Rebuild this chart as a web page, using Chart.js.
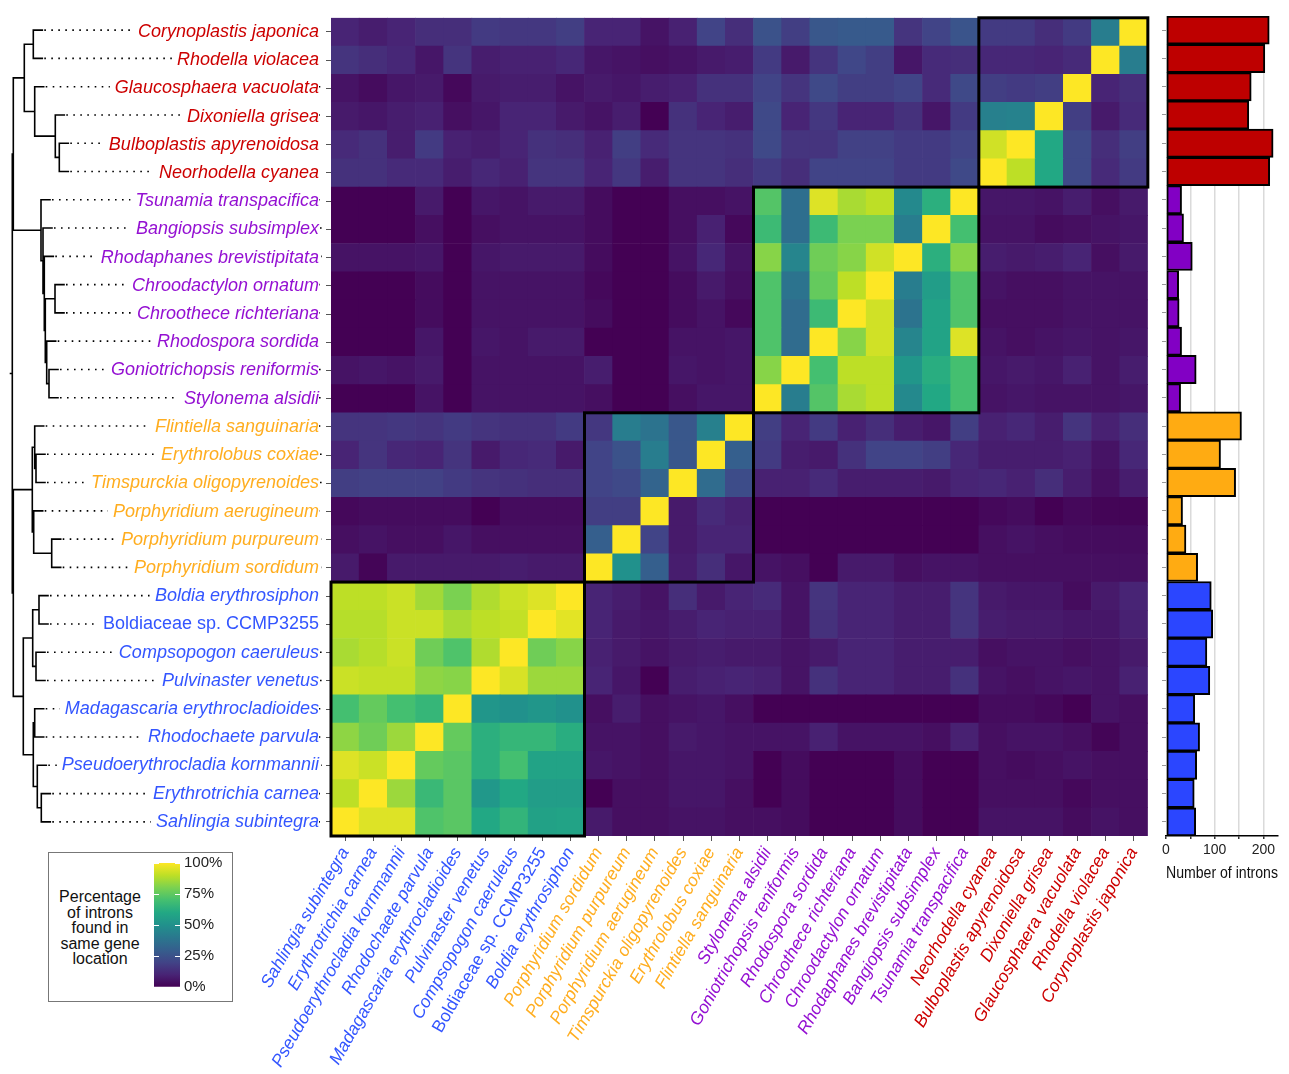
<!DOCTYPE html>
<html>
<head>
<meta charset="utf-8">
<script src="https://cdn.jsdelivr.net/npm/chart.js@4.4.1/dist/chart.umd.min.js"></script>
<style>
  body { margin: 0; background: #fff; width: 1289px; height: 1074px; overflow: hidden; position: relative;
         font-family: "Liberation Sans", Arial, sans-serif; }
  canvas { position: absolute; }
  #legendBox { position: absolute; left: 48px; top: 852px; width: 185px; height: 150px;
               border: 1px solid #777; box-sizing: border-box; }
  #legendTitle { position: absolute; left: 48px; top: 889px; width: 104px; text-align: center;
                 font-size: 16px; line-height: 15.5px; color: #111; }
</style>
</head>
<body>
<div id="legendBox"></div>
<div id="legendTitle">Percentage<br>of introns<br>found in<br>same gene<br>location</div>
<canvas id="tree" width="331" height="1074" style="left:0;top:0"></canvas>
<canvas id="heat" width="1155" height="1074" style="left:0;top:0"></canvas>
<canvas id="bars" width="134" height="885" style="left:1155px;top:0"></canvas>
<canvas id="scale" width="90" height="150" style="left:150px;top:850px"></canvas>
<script>
// species, top to bottom (heatmap columns run in reverse order)
const species = [
  "Corynoplastis japonica", "Rhodella violacea", "Glaucosphaera vacuolata", "Dixoniella grisea",
  "Bulboplastis apyrenoidosa", "Neorhodella cyanea",
  "Tsunamia transpacifica", "Bangiopsis subsimplex", "Rhodaphanes brevistipitata", "Chroodactylon ornatum",
  "Chroothece richteriana", "Rhodospora sordida", "Goniotrichopsis reniformis", "Stylonema alsidii",
  "Flintiella sanguinaria", "Erythrolobus coxiae", "Timspurckia oligopyrenoides", "Porphyridium aerugineum",
  "Porphyridium purpureum", "Porphyridium sordidum",
  "Boldia erythrosiphon", "Boldiaceae sp. CCMP3255", "Compsopogon caeruleus", "Pulvinaster venetus",
  "Madagascaria erythrocladioides", "Rhodochaete parvula", "Pseudoerythrocladia kornmannii",
  "Erythrotrichia carnea", "Sahlingia subintegra"
];
const group = [0,0,0,0,0,0, 1,1,1,1,1,1,1,1, 2,2,2,2,2,2, 3,3,3,3,3,3,3,3,3];
const introns = [212,203,175,170,220,213, 32,36,54,26,27,32,62,30, 155,112,143,34,41,65, 93,96,84,90,59,69,63,58,61];
const intronTicks = [0, 50, 100, 150, 200];

// percentage matrix: rows top->bottom, columns left->right as drawn
const pct = [
  [10,8,10,13,13,17,16,16,18,10,10,5,9,20,13, 25,18,27,28,28,15,20,26,17,17,13,17,42,100],
  [15,13,11,6,15,8,9,9,11,6,5,4,5,7,8, 17,7,15,21,18,6,12,13,11,11,10,12,100,42],
  [5,3,6,7,2,7,8,8,5,7,6,8,9,14,14, 20,15,22,18,18,20,12,22,18,17,18,100,10,13],
  [7,6,8,9,4,6,10,10,7,5,8,0,14,10,8, 22,10,16,10,10,14,6,17,43,44,100,18,7,12],
  [12,14,8,17,9,8,10,14,13,9,18,12,15,15,14, 22,15,15,19,19,17,17,20,93,100,60,22,13,18],
  [14,14,12,12,8,11,9,15,15,10,16,8,15,15,13, 17,13,20,20,20,17,17,22,100,90,60,22,12,17],
  [0,0,0,7,0,6,5,7,7,3,0,0,4,4,5, 73,36,95,87,90,47,63,100, 6,6,5,8,4,7],
  [0,0,0,4,0,4,5,5,5,3,0,0,4,9,2, 68,36,68,80,80,42,100,70, 5,5,3,4,5,6],
  [5,5,5,6,0,6,7,7,7,3,0,0,5,11,5, 82,45,78,82,93,100,63,82, 8,7,8,10,4,7],
  [0,0,0,3,0,5,5,5,5,2,0,0,3,7,4, 72,38,76,90,100,42,55,72, 5,4,4,5,5,5],
  [0,0,0,3,0,5,5,5,5,3,0,0,3,5,2, 72,35,68,100,93,38,58,72, 4,4,4,5,5,5],
  [0,0,0,6,0,6,5,7,7,0,0,0,5,5,6, 72,35,100,82,93,45,58,95, 5,4,5,6,5,6],
  [5,6,5,7,0,5,5,5,5,8,0,0,6,5,6, 82,100,70,90,90,52,62,70, 6,7,6,9,5,8],
  [0,0,0,5,0,5,5,5,5,4,0,0,4,6,6, 100,42,73,87,90,47,60,70, 5,6,5,5,5,6],
  [15,15,16,15,17,15,14,14,17, 16,42,38,27,43,100, 18,10,17,9,13,8,6,18, 9,11,8,15,9,13],
  [10,15,11,10,15,7,11,12,7, 20,25,42,27,100,30, 17,8,7,14,20,20,18,11, 8,8,8,9,5,11],
  [18,19,19,19,17,15,14,13,13, 20,22,32,100,35,23, 9,9,12,8,8,8,7,10, 11,9,13,8,4,8],
  [2,3,3,3,3,0,3,3,3, 18,18,100,7,12,9, 0,0,0,0,0,0,0,0, 2,3,0,2,1,1],
  [4,5,4,4,6,4,4,4,4, 30,100,20,7,10,10, 0,0,0,0,0,0,0,0, 4,5,4,3,3,3],
  [7,1,7,7,7,7,8,7,7, 100,50,30,8,13,6, 5,4,0,7,7,4,5,5, 4,4,4,4,4,4],
  [90,90,92,86,80,88,92,95,100, 10,8,5,13,7,10, 12,5,15,10,10,8,8,15, 7,6,6,3,7,10],
  [89,89,92,92,87,90,91,100,96, 10,7,6,8,10,9, 9,5,14,10,10,8,8,15, 8,7,7,6,6,9],
  [87,89,92,78,72,88,100,78,82, 9,7,5,7,8,7, 7,5,7,10,10,8,8,8, 4,5,5,4,5,7],
  [92,91,91,83,82,100,94,85,85, 10,6,0,8,9,10, 9,5,14,10,10,8,8,14, 5,4,5,6,5,9],
  [70,76,70,66,100,52,50,52,50, 4,8,4,5,6,4, 0,0,0,0,0,0,0,0, 3,3,2,0,5,4],
  [83,78,85,100,76,63,66,66,62, 5,5,4,7,6,5, 5,5,9,5,5,5,4,9, 4,5,5,4,1,4],
  [95,92,100,76,74,63,70,58,58, 6,5,4,6,6,5, 0,3,0,0,0,3,0,0, 4,3,4,5,4,4],
  [90,100,85,67,74,53,60,55,55, 0,4,4,6,6,4, 0,3,0,0,0,3,0,0, 4,4,4,2,4,4],
  [100,95,95,72,74,60,65,57,58, 7,4,4,5,5,4, 4,3,0,0,0,3,0,0, 5,5,5,3,5,4]
];

// dendrogram: [node height, ...children], leaves are row indices
const redClade = [24.3, [33.3, 0, 1], [34.7, 2, [55.3, 3, [59.3, 4, 5]]]];
const purpleClade = [41, 6, [43, 7, [44.3, 8, [45.3, [55, 9, 10], [46.7, 11, [49, 12, 13]]]]]];
const orangeClade = [32.3, [34.7, 14, [36, 15, 16]], [33.7, 17, [51.7, 18, 19]]];
const blueClade = [23.3, [32.7, [39, 20, 21], [36, 22, 23]], [33.3, [34.7, 24, 25], [37.3, 26, [41.3, 27, 28]]]];
const tree = [12.3, [13.3, redClade, purpleClade], [13.3, orangeClade, blueClade]];

const textColors = ["#cc0000", "#9410d2", "#ffad1f", "#3355ff"];
const barColors = ["#be0000", "#8200c4", "#ffab12", "#2b46ff"];
const blocks = [[0, 6], [6, 8], [14, 6], [20, 9]];   // [first row, size]
const legendTicks = [0, 25, 50, 75, 100];

const viridisStops = ["#440154","#482475","#414487","#355f8d","#2a788e","#21918c",
                      "#22a884","#44bf70","#7ad151","#bddf26","#fde725"];
function hexRgb(h) { return [1, 3, 5].map(i => parseInt(h.slice(i, i + 2), 16)); }
function viridis(t) {
  t = Math.max(0, Math.min(1, t));
  const p = t * 10, i = Math.min(9, Math.floor(p)), f = p - i;
  const a = hexRgb(viridisStops[i]), b = hexRgb(viridisStops[i + 1]);
  return "rgb(" + a.map((v, k) => Math.round(v + (b[k] - v) * f)).join(",") + ")";
}
const n = species.length;
const colNames = species.slice().reverse();
// row index of the k-th tick / column (both counted from the bottom-left)
const rowOf = k => n - 1 - (Number.isInteger(k) ? k : 0);
const fontFor = (r, size) => ({ family: "'Liberation Sans', Arial, sans-serif", size,
                        style: species[r].startsWith("Boldiaceae") ? "normal" : "italic" });
const noUi = { legend: { display: false }, tooltip: { enabled: false } };

// ---- dendrogram ----
const solid = [], dotted = [], gap = { x: NaN, y: NaN };
function walk(node, parentX) {
  if (typeof node === "number") {
    const y = n - 0.5 - node, tip = parentX + 9;
    solid.push({ x: parentX, y }, { x: tip, y }, gap);
    dotted.push({ x: tip + 2, y }, { x: 322, y }, gap);
    return y;
  }
  const [h, ...kids] = node;
  const ys = kids.map(k => walk(k, h));
  const lo = Math.min(...ys), hi = Math.max(...ys), y = (lo + hi) / 2;
  solid.push({ x: h, y: lo }, { x: h, y: hi }, gap);
  solid.push({ x: parentX, y }, { x: h, y }, gap);
  return y;
}
walk(tree, 10.5);

new Chart(document.getElementById("tree"), {
  type: "scatter",
  data: { datasets: [
    { data: solid, showLine: true, spanGaps: false, borderColor: "#000", borderWidth: 1.6,
      borderCapStyle: "square", pointRadius: 0 },
    { data: dotted, showLine: true, spanGaps: false, borderColor: "#000", borderWidth: 1.6,
      borderDash: [1.6, 5.4], pointRadius: 0 }
  ] },
  options: {
    responsive: false, animation: false, plugins: noUi,
    layout: { padding: { top: 16, bottom: 238, left: 0, right: 0 } },
    scales: { x: { type: "linear", min: 0, max: 331, display: false },
              y: { type: "linear", min: 0, max: n, display: false } }
  }
});

// ---- heatmap ----
const blockFrame = {
  id: "blockFrame",
  afterDatasetsDraw(chart) {
    const { ctx, scales: { x, y } } = chart;
    const w = (x.right - x.left) / n;
    ctx.save();
    ctx.strokeStyle = "#000";
    ctx.lineWidth = 3;
    blocks.forEach(([r0, size]) => {
      const top = y.getPixelForValue(n - r0), bottom = y.getPixelForValue(n - r0 - size);
      const left = x.left + (n - r0 - size) * w, right = x.left + (n - r0) * w;
      ctx.strokeRect(left, top, right - left, bottom - top);
    });
    ctx.restore();
  }
};

const heatDatasets = species.map((_, k) => {
  const r = n - 1 - k;
  return { data: colNames.map(() => 1), backgroundColor: pct[r].map(v => viridis(v / 100)),
           barPercentage: 1, categoryPercentage: 1, borderWidth: 0 };
});

new Chart(document.getElementById("heat"), {
  type: "bar",
  data: { labels: colNames, datasets: heatDatasets },
  options: {
    responsive: false, animation: false, plugins: noUi,
    layout: { padding: { top: 16, right: 3, left: 0, bottom: 0 } },
    scales: {
      x: {
        stacked: true, offset: true,
        grid: { drawOnChartArea: false, offset: false, tickLength: 5, color: "#555" },
        border: { display: false },
        ticks: { autoSkip: false, minRotation: 60, maxRotation: 60, padding: 3,
                 color: c => textColors[group[rowOf(c.index)]],
                 font: c => fontFor(rowOf(c.index), 17.5) },
        afterFit: s => { s.height = 238; }
      },
      y: {
        type: "linear", stacked: true, min: 0, max: n,
        afterBuildTicks: s => { s.ticks = species.map((_, k) => ({ value: k + 0.5 })); },
        grid: { drawOnChartArea: false, tickLength: 5, color: "#555" },
        border: { display: false },
        ticks: { autoSkip: false, padding: 7,
                 callback: (v, i) => species[rowOf(i)],
                 color: c => textColors[group[rowOf(c.index)]],
                 font: c => fontFor(rowOf(c.index), 18),
                 showLabelBackdrop: true, backdropColor: "#fff",
                 backdropPadding: { left: 5, right: 0, top: 0, bottom: 0 } },
        afterFit: s => { s.width = 331; }
      }
    }
  },
  plugins: [blockFrame]
});

// ---- intron counts ----
new Chart(document.getElementById("bars"), {
  type: "bar",
  data: { labels: species, datasets: [{
    data: introns, backgroundColor: group.map(g => barColors[g]),
    borderColor: "#000", borderWidth: 2, borderSkipped: false,
    barPercentage: 1, categoryPercentage: 1
  }] },
  options: {
    indexAxis: "y", responsive: false, animation: false, plugins: noUi,
    layout: { padding: { top: 16, right: 11, left: 0, bottom: 0 } },
    scales: {
      x: {
        min: 0, max: 230,
        afterBuildTicks: s => { s.ticks = intronTicks.map(v => ({ value: v })); },
        ticks: { autoSkip: false, maxRotation: 0, padding: 3, color: "#222",
                 callback: v => (v % 100 === 0 ? v : ""),
                 font: { family: "'Liberation Sans', Arial", size: 14 } },
        grid: { color: c => (c.tick && c.tick.value > 0 ? "#dadada" : "rgba(0,0,0,0)"),
                lineWidth: 1.5, tickLength: 3, tickColor: "#333" },
        border: { display: true, color: "#000", width: 1.5 },
        title: { display: true, text: "Number of introns", color: "#111",
                 font: { family: "'Liberation Sans', Arial", size: 16 }, padding: { top: 2, bottom: 2 } },
        afterFit: s => { s.height = 49; }
      },
      y: {
        ticks: { display: false },
        grid: { drawOnChartArea: false, offset: false, tickLength: 4, color: "#999" },
        border: { display: false },
        afterFit: s => { s.width = 11; }
      }
    }
  }
});

// ---- colour scale legend ----
new Chart(document.getElementById("scale"), {
  type: "bar",
  data: { labels: [""], datasets: [{
    data: [100], barPercentage: 1, categoryPercentage: 1, borderWidth: 0,
    backgroundColor: c => {
      const a = c.chart.chartArea;
      if (!a) return "#21918c";
      const g = c.chart.ctx.createLinearGradient(0, a.bottom, 0, a.top);
      viridisStops.forEach((s, i) => g.addColorStop(i / 10, s));
      return g;
    }
  }] },
  options: {
    responsive: false, animation: false, plugins: noUi,
    layout: { padding: { top: 13, bottom: 12, left: 4, right: 0 } },
    scales: {
      x: { display: false },
      y: {
        position: "right", min: 0, max: 100,
        afterBuildTicks: s => { s.ticks = legendTicks.map(v => ({ value: v })); },
        ticks: { callback: v => v + "%", padding: 4, color: "#222",
                 font: { family: "'Liberation Sans', Arial", size: 15 } },
        grid: { drawTicks: false, color: "#fff", lineWidth: 1, z: 1 },
        border: { display: false, dash: [5, 16] },
        afterFit: s => { s.width = 60; }
      }
    }
  }
});
</script>
</body>
</html>
